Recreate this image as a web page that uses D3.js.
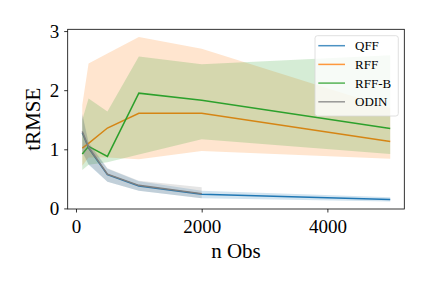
<!DOCTYPE html>
<html>
<head>
<meta charset="utf-8">
<script src="https://cdn.jsdelivr.net/npm/d3@7"></script>
<style>
  body { margin: 0; background: #fff; }
  text { font-family: "Liberation Serif", "DejaVu Serif", serif; }
</style>
</head>
<body>
<svg id="chart" width="432" height="288"></svg>
<script>
// n observations
var nObs = [100, 200, 500, 1000, 2000, 5000]
var nObsOdin = [100, 200, 500, 1000, 2000]

// mean tRMSE and band edges
var qffMean = [1.28, 1.02, 0.57, 0.38, 0.24, 0.15],
    qffLow  = [0.95, 0.74, 0.45, 0.30, 0.17, 0.115],
    qffHigh = [1.58, 1.10, 0.67, 0.46, 0.30, 0.19]

var rffMean = [1.02, 1.10, 1.36, 1.61, 1.61, 1.13],
    rffLow  = [0.72, 0.86, 0.86, 0.83, 0.97, 0.84],
    rffHigh = [1.75, 2.45, 2.62, 2.90, 2.70, 1.70]

var rffbMean = [0.92, 1.05, 0.88, 1.95, 1.83, 1.35],
    rffbLow  = [0.65, 0.74, 0.78, 0.91, 1.17, 0.92],
    rffbHigh = [1.50, 1.86, 1.64, 2.57, 2.44, 2.59]

var odinMean = [1.30, 1.04, 0.58, 0.39, 0.25],
    odinLow  = [0.97, 0.75, 0.45, 0.30, 0.17],
    odinHigh = [1.61, 1.12, 0.68, 0.47, 0.36]

var names = ['QFF', 'RFF', 'RFF-B', 'ODIN']
var colors = ['#1f77b4', '#ff7f0e', '#2ca02c', '#7f7f7f']
var xTicks = [0, 2000, 4000]
var yTicks = [0, 1, 2, 3]

var svg = d3.select('#chart')
var mLeft = 67.7, mRight = 404.3, mTop = 29.3, mBottom = 209

var x = d3.scaleLinear().domain([-132, 5224]).range([mLeft, mRight])
var y = d3.scaleLinear().domain([-0.01, 3.03]).range([mBottom, mTop])

var series = [
    {xs: nObs, mean: qffMean, low: qffLow, high: qffHigh},
    {xs: nObs, mean: rffMean, low: rffLow, high: rffHigh},
    {xs: nObs, mean: rffbMean, low: rffbLow, high: rffbHigh},
    {xs: nObsOdin, mean: odinMean, low: odinLow, high: odinHigh}
]

var area = d3.area()
    .x(d => x(d[0])).y0(d => y(d[1])).y1(d => y(d[2]))
var line = d3.line().x(d => x(d[0])).y(d => y(d[1]))

series.forEach((s, i) => {
    var pts = s.xs.map((v, j) => [v, s.low[j], s.high[j]])
    svg.append('path').attr('d', area(pts))
        .attr('fill', colors[i]).attr('fill-opacity', 0.2)
    svg.append('path').attr('d', line(s.xs.map((v, j) => [v, s.mean[j]])))
        .attr('fill', 'none').attr('stroke', colors[i]).attr('stroke-width', 1.5)
})

// axes
var xAxis = svg.append('g').attr('transform', 'translate(0,' + mBottom + ')')
    .call(d3.axisBottom(x).tickValues(xTicks).tickFormat(d3.format('d'))
        .tickSize(3.5).tickPadding(4))
var yAxis = svg.append('g').attr('transform', 'translate(' + mLeft + ',0)')
    .call(d3.axisLeft(y).tickValues(yTicks).tickFormat(d3.format('d'))
        .tickSize(3.5).tickPadding(5))
;[xAxis, yAxis].forEach(a => {
    a.select('.domain').remove()
    a.selectAll('text').attr('font-size', 19).attr('fill', '#000')
        .style('font-family', '"Liberation Serif", serif')
    a.selectAll('line').attr('stroke', '#000').attr('stroke-width', 0.8)
})
xAxis.selectAll('text').attr('dy', '0.85em')

svg.append('rect').attr('x', mLeft).attr('y', mTop)
    .attr('width', mRight - mLeft).attr('height', mBottom - mTop)
    .attr('fill', 'none').attr('stroke', '#000').attr('stroke-width', 0.8)

svg.append('text').attr('x', (mLeft + mRight) / 2).attr('y', 258)
    .attr('text-anchor', 'middle').attr('font-size', 21).text('n Obs')
svg.append('text')
    .attr('transform', 'translate(40,' + ((mTop + mBottom) / 2) + ') rotate(-90)')
    .attr('text-anchor', 'middle').attr('font-size', 21).text('tRMSE')

// legend
var lg = svg.append('g')
lg.append('rect').attr('x', 315).attr('y', 35.7).attr('width', 83.3).attr('height', 80.3)
    .attr('rx', 2.5).attr('fill', '#fff').attr('fill-opacity', 0.8)
    .attr('stroke', '#d8d8d8').attr('stroke-width', 0.8)
names.forEach((n, i) => {
    var yy = 45.7 + i * 18.7
    lg.append('line').attr('x1', 318.3).attr('x2', 345).attr('y1', yy).attr('y2', yy)
        .attr('stroke', colors[i]).attr('stroke-width', 1.5).attr('stroke-opacity', 0.8)
    lg.append('text').attr('x', 355).attr('y', yy + 4.5)
        .attr('font-size', 13).text(n)
})
</script>
</body>
</html>
